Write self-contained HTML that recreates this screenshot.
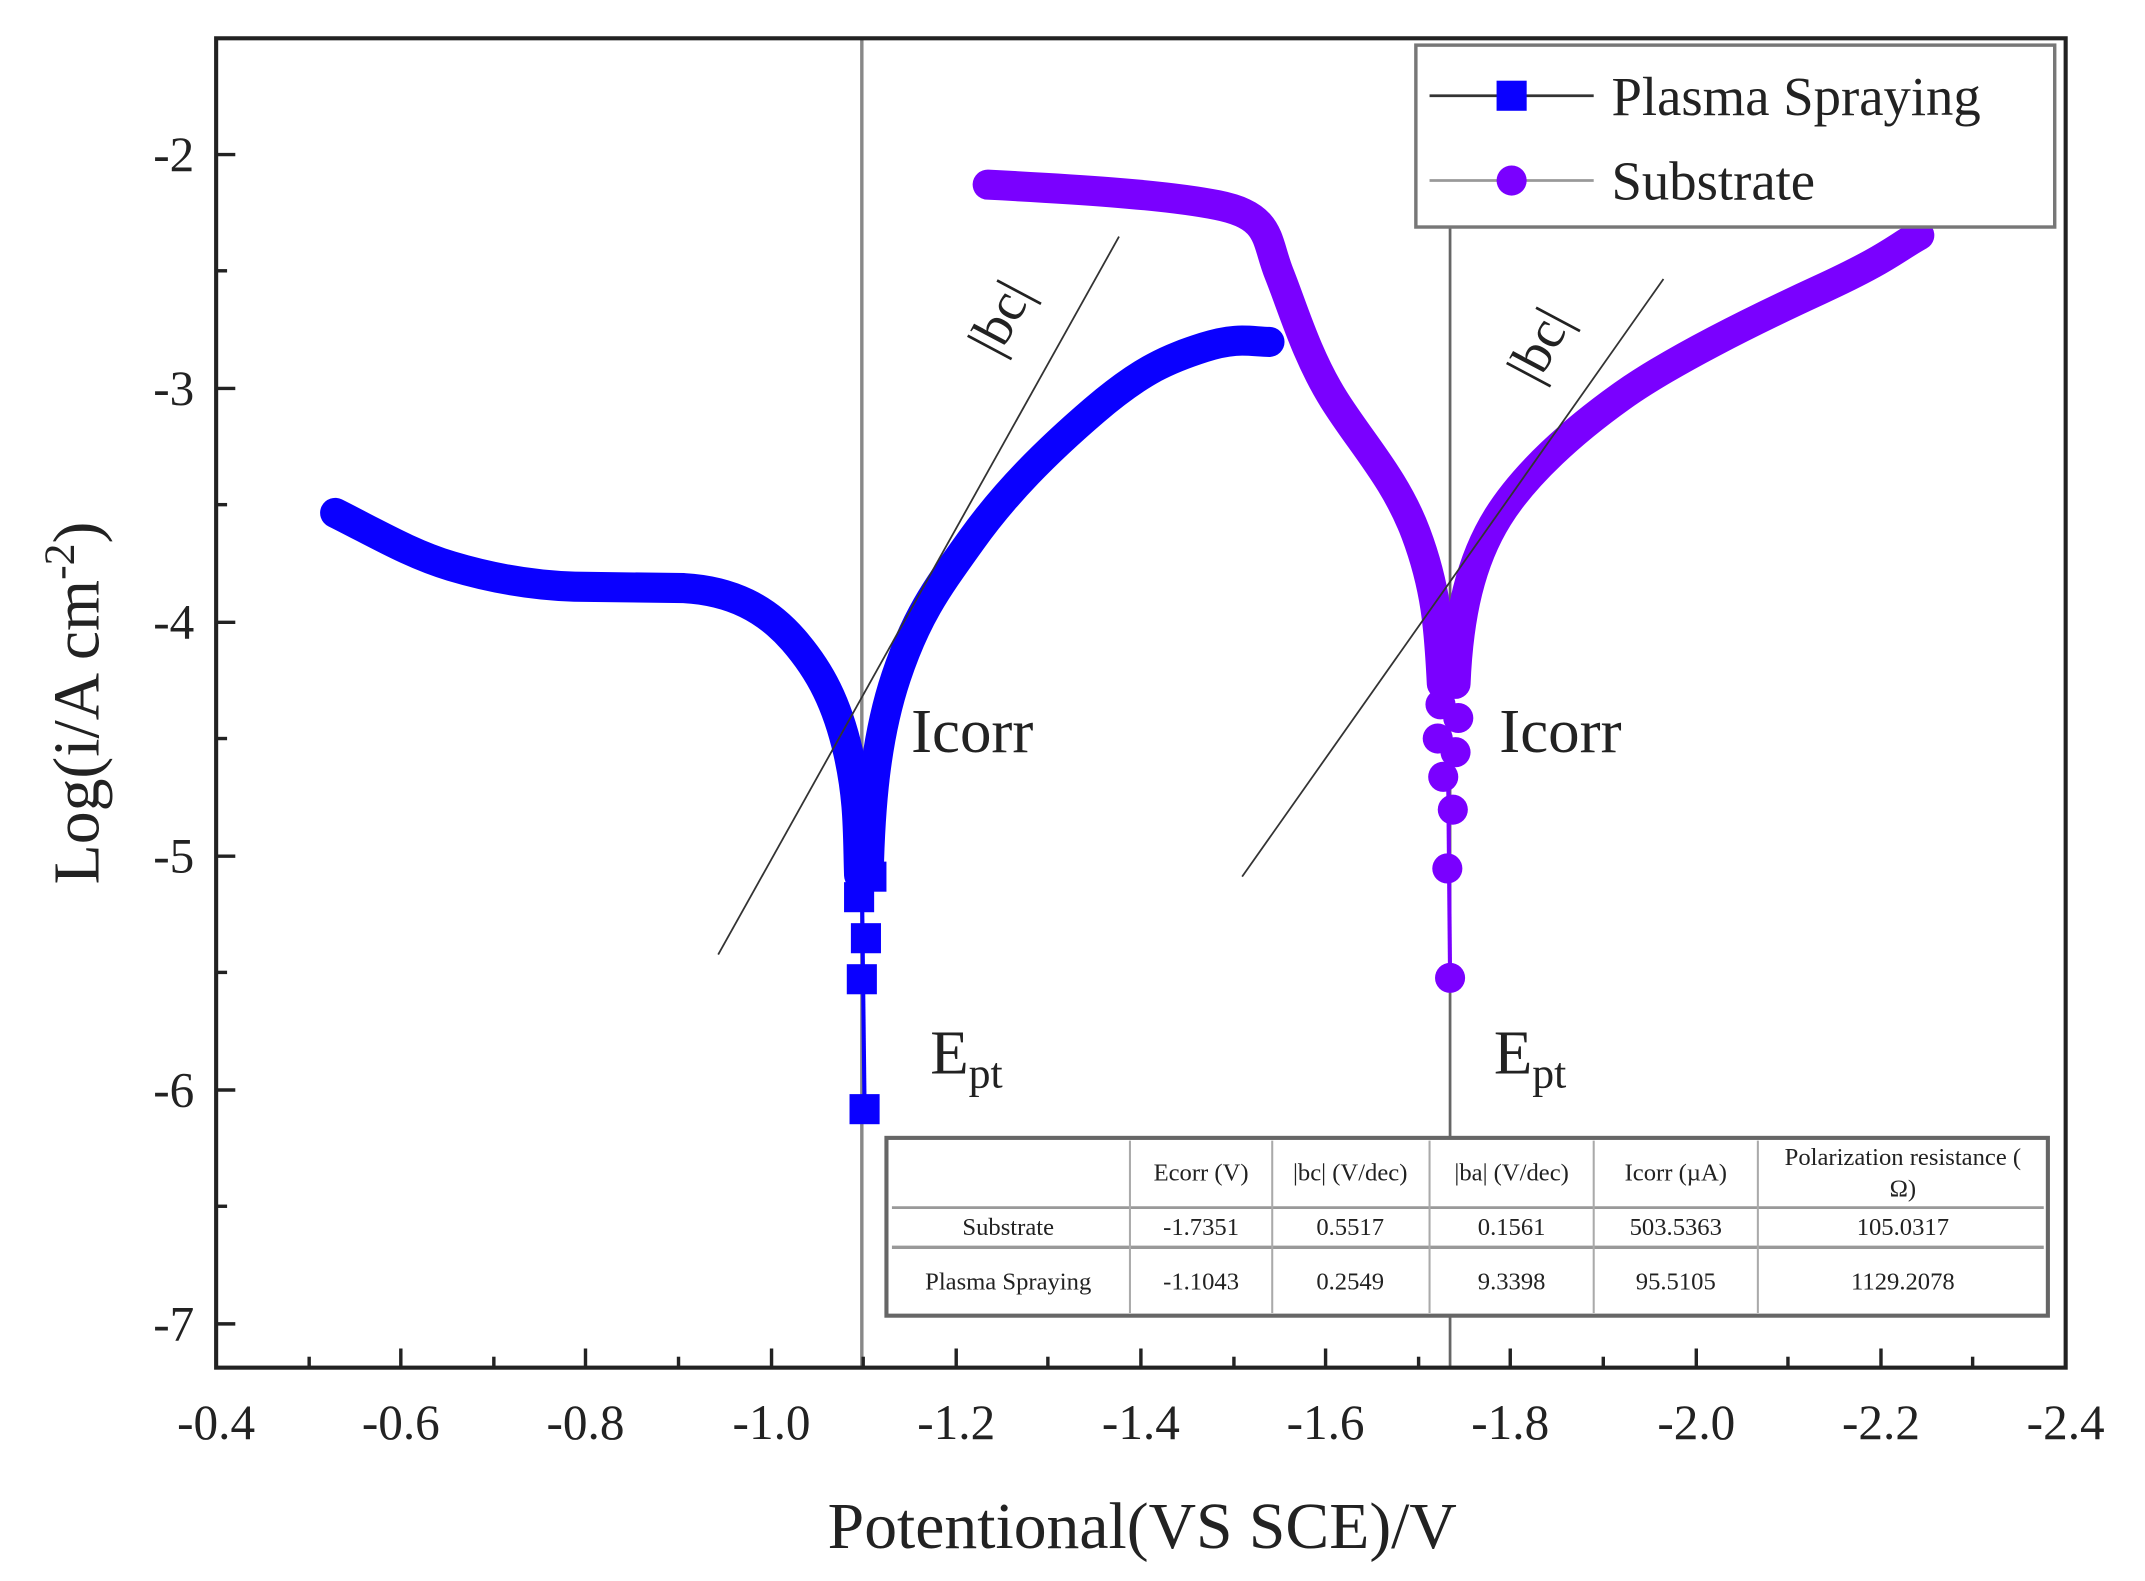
<!DOCTYPE html>
<html><head><meta charset="utf-8"><style>body{margin:0;background:#fff}svg{display:block}text{font-family:"Liberation Serif",serif;fill:#222}</style></head>
<body>
<svg width="2145" height="1581" viewBox="0 0 1568 1156" preserveAspectRatio="none" xmlns="http://www.w3.org/2000/svg">
<rect width="1568" height="1156" fill="#fff"/>
<line x1="630" y1="28" x2="630" y2="1000" stroke="#888" stroke-width="2.5"/>
<line x1="1060" y1="166" x2="1060" y2="1000" stroke="#666" stroke-width="2"/>
<path fill="none" stroke="#0a00ff" stroke-width="22" stroke-linejoin="round" stroke-linecap="round" d="M245,375 C275,390 300,405 330,414 S390,428 420,429 L500,430 C535,432 560,445 580,468 S612,515 620,550 S627,610 628,640"/>
<path fill="none" stroke="#0a00ff" stroke-width="22" stroke-linejoin="round" stroke-linecap="round" d="M635,640 C636,590 640,540 655,495 S685,430 710,395 S765,330 800,300 S855,262 880,254 S915,250 928,250"/>
<line x1="630" y1="640" x2="632" y2="810" stroke="#0a00ff" stroke-width="3"/>
<g fill="#0a00ff"><rect x="617" y="645" width="22" height="22"/><rect x="622" y="675" width="22" height="22"/><rect x="619" y="705" width="22" height="22"/><rect x="621" y="800" width="22" height="22"/><rect x="628" y="630" width="20" height="22"/></g>
<path fill="none" stroke="#7a00ff" stroke-width="22" stroke-linejoin="round" stroke-linecap="round" d="M722,135 C780,138 850,142 890,150 S925,175 935,200 S955,260 975,292 S1020,350 1035,390 S1052,460 1054,500"/>
<path fill="none" stroke="#7a00ff" stroke-width="22" stroke-linejoin="round" stroke-linecap="round" d="M1064,500 C1066,450 1075,410 1095,378 S1150,315 1185,290 S1280,235 1330,212 S1385,182 1403,172"/>
<line x1="1058" y1="500" x2="1060" y2="715" stroke="#7a00ff" stroke-width="3"/>
<g fill="#7a00ff"><circle cx="1053" cy="515" r="11"/><circle cx="1066" cy="525" r="11"/><circle cx="1051" cy="540" r="11"/><circle cx="1064" cy="550" r="11"/><circle cx="1055" cy="568" r="11"/><circle cx="1062" cy="592" r="11"/><circle cx="1058" cy="635" r="11"/><circle cx="1060" cy="715" r="11"/></g>
<line x1="525" y1="698" x2="818" y2="173" stroke="#333" stroke-width="1.3"/>
<line x1="908" y1="641" x2="1216" y2="204" stroke="#333" stroke-width="1.3"/>
<text x="0" y="0" font-size="40" transform="translate(730,262) rotate(-62)">|bc|</text>
<text x="0" y="0" font-size="40" transform="translate(1124,282) rotate(-62)">|bc|</text>
<text x="666" y="550" font-size="46">Icorr</text>
<text x="1096" y="550" font-size="46">Icorr</text>
<text x="680" y="785" font-size="46">E<tspan font-size="32" dy="10">pt</tspan></text>
<text x="1092" y="785" font-size="46">E<tspan font-size="32" dy="10">pt</tspan></text>
<rect x="1035" y="33" width="467" height="133" fill="#fff" stroke="#777" stroke-width="2.5"/>
<line x1="1045" y1="70" x2="1165" y2="70" stroke="#333" stroke-width="2"/>
<rect x="1094" y="59" width="22" height="22" fill="#0a00ff"/>
<text x="1178" y="84" font-size="40">Plasma Spraying</text>
<line x1="1045" y1="132" x2="1165" y2="132" stroke="#999" stroke-width="2"/>
<circle cx="1105" cy="132" r="11" fill="#7a00ff"/>
<text x="1178" y="146" font-size="40">Substrate</text>
<g>
<rect x="648" y="832" width="849" height="130" fill="#fff" stroke="#666" stroke-width="3"/>
<line x1="652" y1="883" x2="1494" y2="883" stroke="#999" stroke-width="2"/>
<line x1="652" y1="912" x2="1494" y2="912" stroke="#999" stroke-width="2.5"/>
<g stroke="#aaa" stroke-width="1.5"><line x1="826" y1="834" x2="826" y2="960"/><line x1="930" y1="834" x2="930" y2="960"/><line x1="1045" y1="834" x2="1045" y2="960"/><line x1="1165" y1="834" x2="1165" y2="960"/><line x1="1285" y1="834" x2="1285" y2="960"/></g>
<g font-size="18" text-anchor="middle">
<text x="878" y="863">Ecorr (V)</text><text x="987" y="863">|bc| (V/dec)</text><text x="1105" y="863">|ba| (V/dec)</text><text x="1225" y="863">Icorr (µA)</text>
<text x="1391" y="852">Polarization resistance (</text><text x="1391" y="875">Ω)</text>
<text x="737" y="903">Substrate</text><text x="878" y="903">-1.7351</text><text x="987" y="903">0.5517</text><text x="1105" y="903">0.1561</text><text x="1225" y="903">503.5363</text><text x="1391" y="903">105.0317</text>
<text x="737" y="943">Plasma Spraying</text><text x="878" y="943">-1.1043</text><text x="987" y="943">0.2549</text><text x="1105" y="943">9.3398</text><text x="1225" y="943">95.5105</text><text x="1391" y="943">1129.2078</text>
</g></g>
<rect x="158" y="28" width="1352" height="972" fill="none" stroke="#222" stroke-width="3"/>
<g stroke="#222" stroke-width="2.5">
<line x1="158" y1="113" x2="172" y2="113"/><line x1="158" y1="284" x2="172" y2="284"/><line x1="158" y1="455" x2="172" y2="455"/><line x1="158" y1="626" x2="172" y2="626"/><line x1="158" y1="797" x2="172" y2="797"/><line x1="158" y1="968" x2="172" y2="968"/>
<line x1="158" y1="198" x2="166" y2="198"/><line x1="158" y1="369" x2="166" y2="369"/><line x1="158" y1="540" x2="166" y2="540"/><line x1="158" y1="711" x2="166" y2="711"/><line x1="158" y1="882" x2="166" y2="882"/>
<line x1="293" y1="1000" x2="293" y2="986"/><line x1="428" y1="1000" x2="428" y2="986"/><line x1="564" y1="1000" x2="564" y2="986"/><line x1="699" y1="1000" x2="699" y2="986"/><line x1="834" y1="1000" x2="834" y2="986"/><line x1="969" y1="1000" x2="969" y2="986"/><line x1="1104" y1="1000" x2="1104" y2="986"/><line x1="1240" y1="1000" x2="1240" y2="986"/><line x1="1375" y1="1000" x2="1375" y2="986"/>
<line x1="226" y1="1000" x2="226" y2="992"/><line x1="361" y1="1000" x2="361" y2="992"/><line x1="496" y1="1000" x2="496" y2="992"/><line x1="631" y1="1000" x2="631" y2="992"/><line x1="766" y1="1000" x2="766" y2="992"/><line x1="902" y1="1000" x2="902" y2="992"/><line x1="1037" y1="1000" x2="1037" y2="992"/><line x1="1172" y1="1000" x2="1172" y2="992"/><line x1="1307" y1="1000" x2="1307" y2="992"/><line x1="1442" y1="1000" x2="1442" y2="992"/>
</g>
<g font-size="36" text-anchor="end">
<text x="142" y="125">-2</text><text x="142" y="296">-3</text><text x="142" y="467">-4</text><text x="142" y="638">-5</text><text x="142" y="809">-6</text><text x="142" y="980">-7</text>
</g>
<g font-size="36" text-anchor="middle">
<text x="158" y="1052">-0.4</text><text x="293" y="1052">-0.6</text><text x="428" y="1052">-0.8</text><text x="564" y="1052">-1.0</text><text x="699" y="1052">-1.2</text><text x="834" y="1052">-1.4</text><text x="969" y="1052">-1.6</text><text x="1104" y="1052">-1.8</text><text x="1240" y="1052">-2.0</text><text x="1375" y="1052">-2.2</text><text x="1510" y="1052">-2.4</text>
</g>
<text x="835" y="1132" font-size="48" text-anchor="middle">Potentional(VS SCE)/V</text>
<text transform="translate(72,514) rotate(-90)" font-size="48" text-anchor="middle">Log(i/A cm<tspan font-size="32" dy="-18">-2</tspan><tspan dy="18">)</tspan></text>
</svg>
</body></html>
